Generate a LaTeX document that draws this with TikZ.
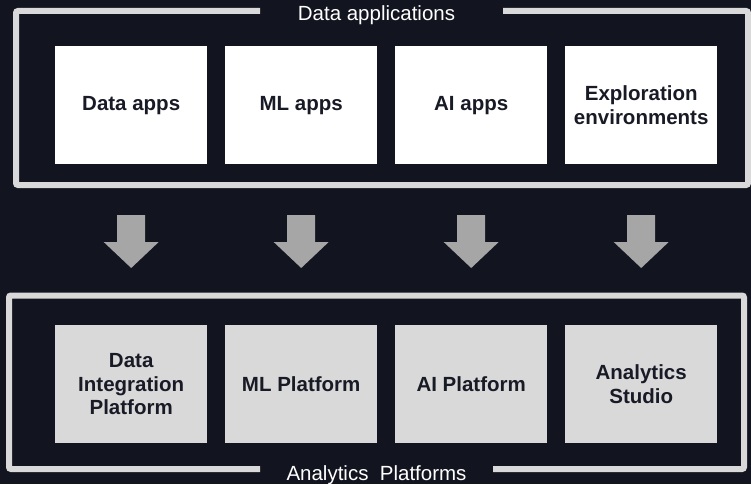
\documentclass[tikz,border=0pt]{standalone}
\usepackage{fontspec}
\setmainfont{Liberation Sans}
\definecolor{bgc}{RGB}{18,20,31}
\definecolor{framec}{RGB}{217,217,217}
\definecolor{arrowc}{RGB}{166,166,166}
\definecolor{txtc}{RGB}{24,26,38}
\begin{document}
\begin{tikzpicture}[x=1pt,y=-1pt,
  frame/.style={draw=framec,line width=6pt,rounded corners=2pt},
  appbox/.style={fill=white,inner sep=0pt,minimum width=152pt,minimum height=118pt,anchor=north west,align=center,text=txtc,font=\fontsize{20.5}{23.5}\selectfont\bfseries},
  platbox/.style={appbox,fill=framec},
  title/.style={text=white,inner sep=0pt,anchor=base,font=\fontsize{20.5}{23.5}\selectfont},
  downarrow/.style={fill=arrowc}]
\useasboundingbox (0,0) rectangle (751,484);
\fill[bgc] (0,0) rectangle (751,484);
% top frame
\draw[frame] (260,11) -- (16,11) -- (16,185) -- (748,185) -- (748,11) -- (503,11);
\node[title] (ttop) at (376.5,21) {Data applications};
% bottom frame
\draw[frame] (260,469) -- (9,469) -- (9,295.5) -- (744,295.5) -- (744,469) -- (493,469);
\node[title] (tbot) at (376.5,480) {Analytics\ \ Platforms};
% top boxes
\node[appbox] (a1) at (55,46) {Data apps};
\node[appbox] (a2) at (225,46) {ML apps};
\node[appbox] (a3) at (395,46) {AI apps};
\node[appbox] (a4) at (565,46) {Exploration\\environments};
% bottom boxes
\node[platbox] (p1) at (55,325) {Data\\Integration\\Platform};
\node[platbox] (p2) at (225,325) {ML Platform};
\node[platbox] (p3) at (395,325) {AI Platform};
\node[platbox] (p4) at (565,325) {Analytics\\Studio};
% arrows
\foreach \n in {a1,a2,a3,a4}{
  \path (\n.center) coordinate (c);
  \fill[downarrow] ([xshift=-14pt]c |- 0,215) -- ([xshift=14pt]c |- 0,215)
    -- ([xshift=14pt]c |- 0,242) -- ([xshift=27.5pt]c |- 0,242)
    -- (c |- 0,268) -- ([xshift=-27.5pt]c |- 0,242)
    -- ([xshift=-14pt]c |- 0,242) -- cycle;
}
\end{tikzpicture}
\end{document}
